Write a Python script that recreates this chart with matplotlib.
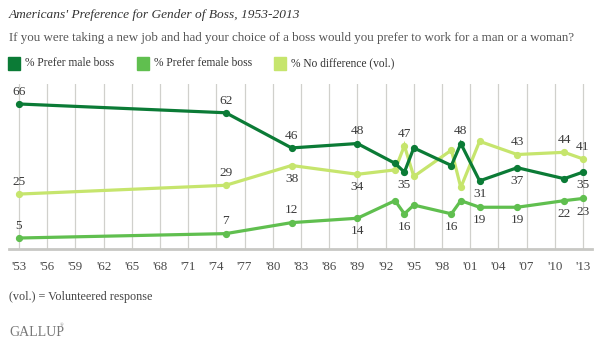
import matplotlib.pyplot as plt
import matplotlib.patches as mpatches

years = [1953, 1975, 1982, 1989, 1993, 1994, 1995, 1999, 2000, 2002, 2006, 2011, 2013]
male = [66, 62, 46, 48, 39, 35, 46, 38, 48, 31, 37, 32, 35]
female = [5, 7, 12, 14, 22, 16, 20, 16, 22, 19, 19, 22, 23]
nodiff = [25, 29, 38, 34, 36, 47, 33, 45, 28, 49, 43, 44, 41]

# which points carry a label: 1 above, -1 below, 0 none
male_lab = [1, 1, 1, 1, 0, -1, 0, 0, 1, -1, -1, 0, -1]
female_lab = [1, 1, 1, -1, 0, -1, 0, -1, 0, -1, -1, -1, -1]
nodiff_lab = [1, 1, -1, -1, 0, 1, 0, 0, 0, 0, 1, 1, 1]

tick_years = list(range(1953, 2014, 3))
tick_labels = ["'" + str(y)[2:] for y in tick_years]

series_names = ["% Prefer male boss", "% Prefer female boss", "% No difference (vol.)"]
colors = ["#0b7b36", "#60bf4f", "#c6e56d"]

W, H = 599, 344
plt.rcParams['font.family'] = ['Liberation Serif', 'DejaVu Serif']

fig = plt.figure(figsize=(W / 100, H / 100), dpi=100)
ax = fig.add_axes([9 / W, (H - 249) / H, 583 / W, 164.8 / H])

xmin = 1953 - 10 / 9.4
xmax = 1953 + 573 / 9.4
ax.set_xlim(xmin, xmax)
ax.set_ylim(0, 75)

for y in tick_years:
    ax.axvline(y, color="#d0d0cc", lw=0.9, zorder=0)

# draw lines back to front so the dark one sits on top
order = [2, 1, 0]
data = [male, female, nodiff]
labs = [male_lab, female_lab, nodiff_lab]
for i in order:
    ax.plot(years, data[i], color=colors[i], lw=2.3, marker="o", ms=4.2,
            zorder=3 + (2 - i), solid_joinstyle="miter")

for i in range(3):
    for x, v, p in zip(years, data[i], labs[i]):
        if p == 0:
            continue
        off = 8.8 if p > 0 else -9.5
        ax.annotate(str(v), (x, v), xytext=(0, off), textcoords="offset points",
                    ha="center", va="center", fontsize=9.6, color="#3a3a3a")

for s in ["top", "right", "left"]:
    ax.spines[s].set_visible(False)
ax.spines["bottom"].set_color("#c8c8c4")
ax.spines["bottom"].set_linewidth(2)
ax.set_yticks([])
ax.set_xticks(tick_years)
ax.set_xticklabels(tick_labels, fontsize=9.4, color="#4a4a4a")
ax.tick_params(axis="x", length=0, pad=9)

fig.text(9 / W, 1 - 15 / H, "Americans' Preference for Gender of Boss, 1953-2013",
         fontsize=9.6, style="italic", color="#333333", va="center", ha="left")
fig.text(9 / W, 1 - 38 / H,
         "If you were taking a new job and had your choice of a boss would you prefer to work for a man or a woman?",
         fontsize=9.35, color="#555555", va="center", ha="left")

leg_x = [8, 137, 274]
for i in range(3):
    fig.patches.append(mpatches.Rectangle((leg_x[i] / W, 1 - 70 / H), 12 / W, 13 / H,
                                          transform=fig.transFigure, color=colors[i]))
    fig.text((leg_x[i] + 17) / W, 1 - 63.5 / H, series_names[i], fontsize=8.3,
             color="#333333", va="center", ha="left")

fig.text(9 / W, 1 - 297 / H, "(vol.) = Volunteered response", fontsize=8.7,
         color="#444444", va="center", ha="left")
fig.text(9 / W, 1 - 332 / H, "GALLUP", fontsize=10, color="#777777",
         va="center", ha="left")
fig.text(60 / W, 1 - 325 / H, "®", fontsize=3.5, color="#777777", va="center", ha="left")

fig.savefig("out.png", dpi=100)
